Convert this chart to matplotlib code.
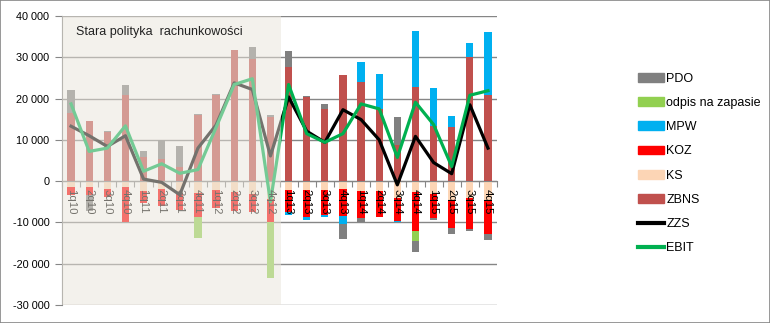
import matplotlib.pyplot as plt
import numpy as np
from matplotlib.patches import Patch, Rectangle
from matplotlib.lines import Line2D
from matplotlib.ticker import FuncFormatter

plt.rcParams['font.family'] = ['Liberation Sans', 'DejaVu Sans']

quarters = ['1q10', '2q10', '3q10', '4q10', '1q11', '2q11', '3q11', '4q11',
            '1q12', '2q12', '3q12', '4q12', '1q13', '2q13', '3q13', '4q13',
            '1q14', '2q14', '3q14', '4q14', '1q15', '2q15', '3q15', '4q15']

zbns = [16600, 14650, 11900, 20970, 5830, 5340, 3320, 16100, 20900, 31660, 29470, 15550,
        27600, 20400, 17570, 25600, 23900, 17500, 8830, 22750, 13440, 13040, 30040, 20800]
ks = [-1300, -1300, -1800, -1500, -2300, -1800, -2900, -2900, -2100, -2650, -3050, -4300,
      -2100, -2100, -2100, -2000, -2300, -2300, -4050, -2600, -3000, -4450, -4050, -4450]
koz = [-2100, -2150, -2100, -8460, -3000, -4100, -4050, -5900, -4450, -4550, -4450, -5500,
       -5400, -6500, -6050, -6350, -6700, -6300, -5550, -9450, -5950, -6900, -7550, -8300]
mpw = [0, 0, 0, 0, 0, 0, 0, 0, 0, 0, 0, 0,
       -650, -800, -650, -2100, 4850, 8350, -300, 13550, 9000, 2850, 3300, 15250]
odpis = [0, 0, 0, 0, 0, 0, 0, -4900, 0, 0, 0, -13650,
         0, 0, 0, 0, 0, 0, 0, -2350, 0, 0, 0, 0]
pdo = [5400, -3900, 150, 2300, 1550, 4550, 5250, 250, 200, 0, 2950, 550,
       3800, 300, 1200, -3550, -1000, -200, 6650, -2650, -400, -1400, -550, -1450]

zzs = [13300, 11000, 8400, 11000, 500, -300, -3300, 8000, 13600, 23800, 22200, 6100,
       20400, 12100, 9400, 17300, 14900, 10000, -900, 10850, 4500, 1800, 18500, 8000]
ebit = [18700, 7200, 8000, 13400, 2400, 4200, 1900, 2800, 13000, 23400, 24800, -5000,
        23400, 11500, 9400, 11500, 18700, 17500, 5750, 19100, 13700, 3550, 20800, 21900]

# stacking order: first series sits next to the axis
series = [('ZBNS', zbns, '#C0504D'), ('KS', ks, '#FCD5B5'), ('KOZ', koz, '#FF0000'),
          ('MPW', mpw, '#00B0F0'), ('odpis na zapasie', odpis, '#92D050'), ('PDO', pdo, '#808080')]

fig = plt.figure(figsize=(7.7, 3.23), dpi=100)
ax = fig.add_axes([0.0805, 0.0557, 0.565, 0.8948])

x = np.arange(len(quarters))
pos_base = np.zeros(len(x))
neg_base = np.zeros(len(x))
for name, vals, col in series:
    v = np.array(vals, dtype=float)
    p = np.where(v > 0, v, 0)
    n = np.where(v < 0, v, 0)
    ax.bar(x, p, 0.4, bottom=pos_base, color=col, zorder=2)
    ax.bar(x, n, 0.4, bottom=neg_base, color=col, zorder=2)
    pos_base += p
    neg_base += n

ax.plot(x, zzs, color='black', lw=2.3, zorder=3)
ax.plot(x, ebit, color='#00B050', lw=2.3, zorder=3)

for i, q in enumerate(quarters):
    ax.text(i, -1800, q, rotation=-90, ha='center', va='top', fontsize=8.2, zorder=4)

# faded area for the old accounting policy
ax.axvspan(-0.5, 11.6, color='#E9E5DA', alpha=0.5, lw=0, zorder=5)
ax.text(0.3, 35300, 'Stara polityka  rachunkowości', fontsize=9, color='#222222', zorder=6)

ax.set_xlim(-0.5, 23.5)
ax.set_ylim(-30000, 40000)
ax.set_yticks(np.arange(-30000, 40001, 10000))
ax.yaxis.set_major_formatter(FuncFormatter(lambda v, _: f'{int(v):,}'.replace(',', ' ')))
ax.grid(axis='y', color='#868686', lw=1, zorder=0)
ax.set_axisbelow(True)

ax.set_xticks(np.arange(-0.5, 24, 1))
ax.set_xticklabels([])
ax.spines['bottom'].set_position(('data', 0))
for s in ['top', 'right']:
    ax.spines[s].set_visible(False)
for s in ['left', 'bottom']:
    ax.spines[s].set_color('#868686')
ax.tick_params(axis='x', length=4, color='#868686', direction='out')
ax.tick_params(axis='y', length=5, color='#868686', labelsize=7.8, pad=4)

handles = [Patch(color='#808080', label='PDO'),
           Patch(color='#92D050', label='odpis na zapasie'),
           Patch(color='#00B0F0', label='MPW'),
           Patch(color='#FF0000', label='KOZ'),
           Patch(color='#FCD5B5', label='KS'),
           Patch(color='#C0504D', label='ZBNS'),
           Line2D([], [], color='black', lw=3, label='ZZS'),
           Line2D([], [], color='#00B050', lw=3, label='EBIT')]
fig.legend(handles=handles, loc='upper left', bbox_to_anchor=(0.829, 0.775), frameon=False,
           fontsize=9, handlelength=2.08, handletextpad=0.16, labelspacing=0.98,
           borderaxespad=0, borderpad=0)

fig.patches.append(Rectangle((0.0006, 0.0015), 0.9988, 0.997, transform=fig.transFigure,
                             fill=False, edgecolor='#868686', lw=1.2))

fig.savefig('out.png', dpi=100)
